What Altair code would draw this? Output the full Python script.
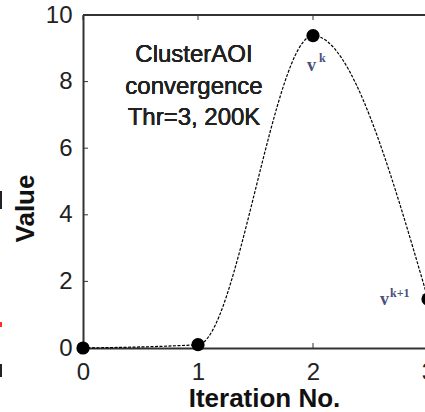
import altair as alt
import pandas as pd

# ---- data ----
iterations = [0, 1, 2, 3]
values = [0.0, 0.1, 9.38, 1.47]
x_ticks = [0, 1, 2, 3]
y_ticks = [0, 2, 4, 6, 8, 10]
note_lines = ["ClusterAOI", "convergence", "Thr=3, 200K"]

W, H, XR = 342, 333, 345
AX = "#333333"
LBL = "#4a4e7a"

df = pd.DataFrame({"it": iterations, "val": values})
xt_df = pd.DataFrame({"it": x_ticks})
yt_df = pd.DataFrame({"val": y_ticks})
peak_df = df.iloc[[2]]
last_df = df.iloc[[3]]

xs = alt.Scale(domain=[0, 3], range=[0, XR], nice=False)
ys = alt.Scale(domain=[0, 10], nice=False)

x_axis = alt.Axis(values=x_ticks, format="d", title="Iteration No.",
                  titleX=181, titleY=58, titleBaseline="alphabetic",
                  titleAlign="center", labelPadding=12, labelFlush=False)
y_axis = alt.Axis(values=y_ticks, format="d", title="Value",
                  titleAngle=270, titleX=-50, titleY=193,
                  titleBaseline="alphabetic", titleAlign="center",
                  labelPadding=11)

X = alt.X("it:Q", scale=xs, axis=x_axis)
Y = alt.Y("val:Q", scale=ys, axis=y_axis)

line = alt.Chart(df).mark_line(interpolate="monotone", color="black",
                               strokeWidth=1.2, strokeDash=[3, 1.5]).encode(x=X, y=Y)
pts = alt.Chart(df).mark_circle(size=175, color="black", opacity=1).encode(
    x=alt.X("it:Q", scale=xs), y=alt.Y("val:Q", scale=ys))

top_border = alt.Chart(df).mark_rule(color=AX, strokeWidth=2).encode(
    x=alt.value(0), x2=alt.value(XR), y=alt.value(0))

xt_bottom = alt.Chart(xt_df).mark_rule(color=AX, strokeWidth=1).encode(
    x=alt.X("it:Q", scale=xs), y=alt.value(H), y2=alt.value(H - 5))
xt_top = alt.Chart(xt_df).mark_rule(color=AX, strokeWidth=1).encode(
    x=alt.X("it:Q", scale=xs), y=alt.value(0), y2=alt.value(5))
yt_left = alt.Chart(yt_df).mark_rule(color=AX, strokeWidth=1).encode(
    y=alt.Y("val:Q", scale=ys), x=alt.value(0), x2=alt.value(5))

note = alt.Chart(df).mark_text(align="center", baseline="alphabetic",
                               font="Liberation Sans", fontSize=24,
                               lineHeight=31.5, color="#222222").encode(
    x=alt.value(111), y=alt.value(47), text=alt.value(note_lines))

def vlabel(d, txt, dx, dy, size):
    return alt.Chart(d).mark_text(align="left", baseline="alphabetic",
                                  font="Liberation Serif", fontWeight="bold",
                                  fontSize=size, color=LBL, dx=dx, dy=dy).encode(
        x=alt.X("it:Q", scale=xs), y=alt.Y("val:Q", scale=ys), text=alt.value(txt))

vk = vlabel(peak_df, "v", -6, 35, 18)
vk_sup = vlabel(peak_df, "k", 6, 26, 12)
vk1 = vlabel(last_df, "v", -48, 6, 18)
vk1_sup = vlabel(last_df, "k+1", -38, -2, 12)

# fragments of a neighbouring figure at the far left edge
frag_a = alt.Chart(df).mark_rule(color="#222222", strokeWidth=2).encode(
    x=alt.value(-82), y=alt.value(176), y2=alt.value(194))
frag_b = alt.Chart(df).mark_rule(color="#ff3030", strokeWidth=2).encode(
    x=alt.value(-82), y=alt.value(307), y2=alt.value(312))
frag_c = alt.Chart(df).mark_rule(color="#222222", strokeWidth=2).encode(
    x=alt.value(-82), y=alt.value(349), y2=alt.value(362))

chart = alt.layer(
    line, top_border, xt_bottom, xt_top, yt_left, pts, note,
    vk, vk_sup, vk1, vk1_sup, frag_a, frag_b, frag_c
).properties(
    width=W, height=H,
    padding={"left": 83, "top": 15, "right": 0, "bottom": 64},
    autosize=alt.AutoSizeParams(type="none"),
).configure_view(stroke=None).configure_axis(
    grid=False, ticks=False, tickSize=0,
    domainColor=AX, domainWidth=2,
    labelFont="Liberation Sans", labelFontSize=24, labelColor="#222222",
    titleFont="Liberation Sans", titleFontWeight="bold", titleFontSize=26,
    titleColor="#111111",
)

chart.save("out.html", embed_options={"renderer": "svg", "actions": False})
